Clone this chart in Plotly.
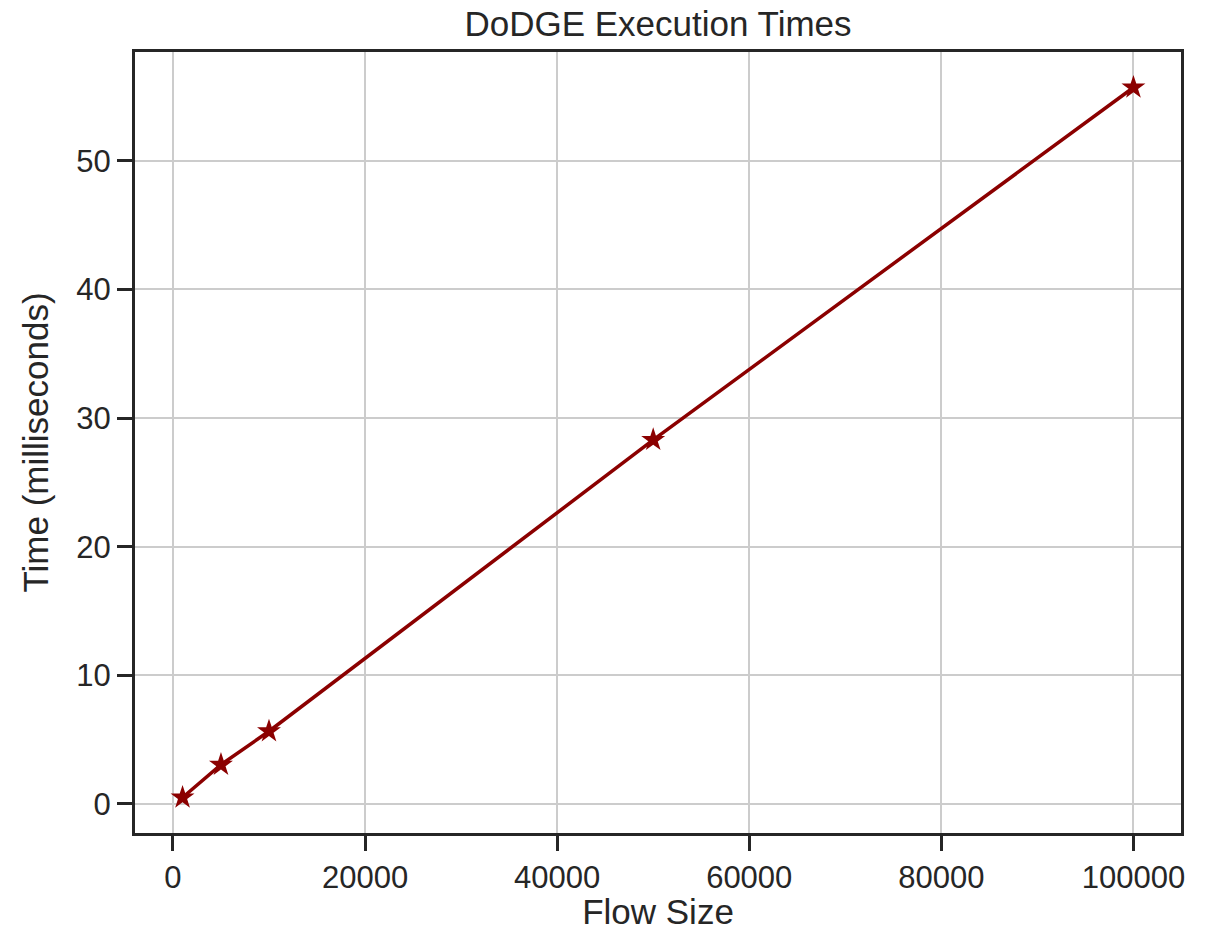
import plotly.graph_objects as go

flow_size = [1000, 5000, 10000, 50000, 100000]
time_ms = [0.5, 3.05, 5.65, 28.3, 55.7]
x_ticks = [0, 20000, 40000, 60000, 80000, 100000]
y_ticks = [0, 10, 20, 30, 40, 50]

fig = go.Figure()
fig.add_trace(go.Scatter(
    x=flow_size, y=time_ms, mode="lines+markers",
    line=dict(color="#8b0000", width=3.5),
    marker=dict(symbol="star", size=18, color="#8b0000"),
))

axis_common = dict(
    showline=True, linecolor="#262626", linewidth=3, mirror=True,
    ticks="outside", ticklen=15, tickwidth=2.5, tickcolor="#262626",
    showgrid=True, gridcolor="#cccccc", gridwidth=2, zeroline=False,
    tickfont=dict(size=31, color="#262626"), automargin=False,
)

fig.update_layout(
    width=1221, height=931,
    margin=dict(l=135, r=40, t=52, b=98),
    paper_bgcolor="white", plot_bgcolor="white",
    font=dict(family="Liberation Sans, Arial, sans-serif", color="#262626"),
    title=dict(text="DoDGE Execution Times", x=658 / 1221, xanchor="center",
               y=1 - 24 / 931, yanchor="middle", font=dict(size=35, color="#262626")),
    showlegend=False,
    xaxis=dict(range=[-3950, 104950], tickvals=x_ticks,
               ticktext=[str(v) for v in x_ticks],
               title=dict(text="Flow Size", font=dict(size=35), standoff=12), **axis_common),
    yaxis=dict(range=[-2.26, 58.46], tickvals=y_ticks,
               title=dict(text="Time (milliseconds)", font=dict(size=35), standoff=18), **axis_common),
)

fig.write_html("out.html")
